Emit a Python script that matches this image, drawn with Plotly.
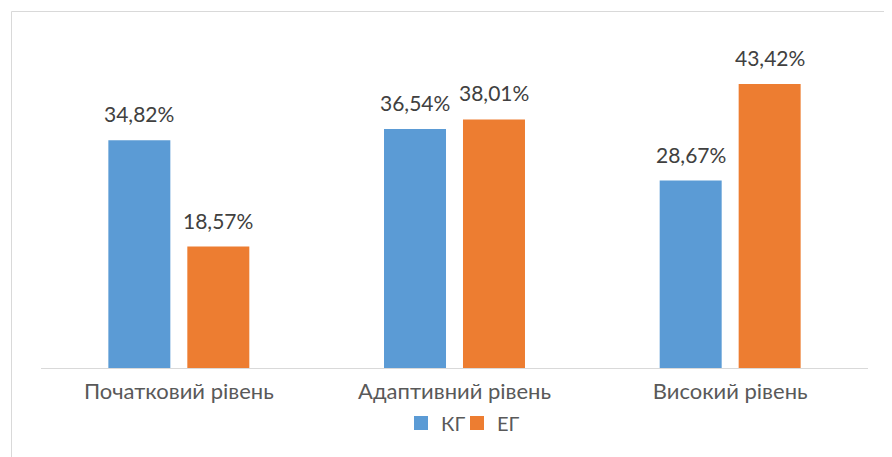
import plotly.graph_objects as go

categories = ["Початковий рівень", "Адаптивний рівень", "Високий рівень"]
kg_values = [34.82, 36.54, 28.67]
eg_values = [18.57, 38.01, 43.42]
series_names = ["КГ", "ЕГ"]
colors = ["#5B9BD5", "#ED7D31"]

FONT = "Lato"
W, H = 892, 457
OFF = 8  # default page body margin
# plot area in page pixels: x 41..868, y 41..368
L, T = 41 - OFF, 41 - OFF
R, B = W - (868 - OFF), H - (368 - OFF)
pw, ph = W - L - R, H - T - B

fig = go.Figure()
for name, vals, col in zip(series_names, (kg_values, eg_values), colors):
    fig.add_trace(go.Bar(x=categories, y=vals, name=name, showlegend=False,
                         marker=dict(color=col, line=dict(width=0))))
# legend entries with larger square swatches, one legend each for exact placement
legend_ids = ["legend", "legend2"]
for name, col, lg in zip(series_names, colors, legend_ids):
    fig.add_trace(go.Scatter(x=[None], y=[None], mode="markers", name=name, legend=lg,
                             marker=dict(symbol="square", size=14, color=col)))

annotations = []
for vals, shift in ((kg_values, -39.5), (eg_values, 39.5)):
    for c, v in zip(categories, vals):
        annotations.append(dict(x=c, y=v, xref="x", yref="y", text=f"{v:.2f}%".replace(".", ","),
                                showarrow=False, yanchor="bottom", xanchor="center",
                                xshift=shift, yshift=12,
                                font=dict(size=21, color="#404040", family=FONT)))

def legend_at(px_center_symbol):
    return dict(orientation="h", x=(px_center_symbol - 20 - 41) / pw, xanchor="left",
                y=(368 - 423) / ph, yanchor="middle", bgcolor="rgba(0,0,0,0)",
                font=dict(size=20, color="#595959", family=FONT), itemwidth=30)

fig.update_layout(
    width=W, height=H,
    margin=dict(l=L, r=R, t=T, b=B, autoexpand=False),
    paper_bgcolor="white", plot_bgcolor="white",
    separators=", ",
    barmode="group", bargap=0.427, bargroupgap=0.215,
    font=dict(family=FONT, color="#595959", size=22),
    showlegend=True,
    legend=legend_at(421),
    legend2=legend_at(477),
    xaxis=dict(showline=True, linecolor="#d9d9d9", linewidth=1, ticks="", automargin=False,
               ticklabelstandoff=4,
               tickfont=dict(size=22, color="#595959", family=FONT), showgrid=False),
    yaxis=dict(range=[0, 50], visible=False, showgrid=False, zeroline=False),
    annotations=annotations,
    shapes=[dict(type="rect", xref="paper", yref="paper",
                 x0=(11.5 - 41) / pw, x1=(900 - 41) / pw,
                 y0=(368 - 470) / ph, y1=(368 - 11.5) / ph,
                 line=dict(color="#d9d9d9", width=1), fillcolor="rgba(0,0,0,0)", layer="below")],
)
fig.write_html("out.html")
